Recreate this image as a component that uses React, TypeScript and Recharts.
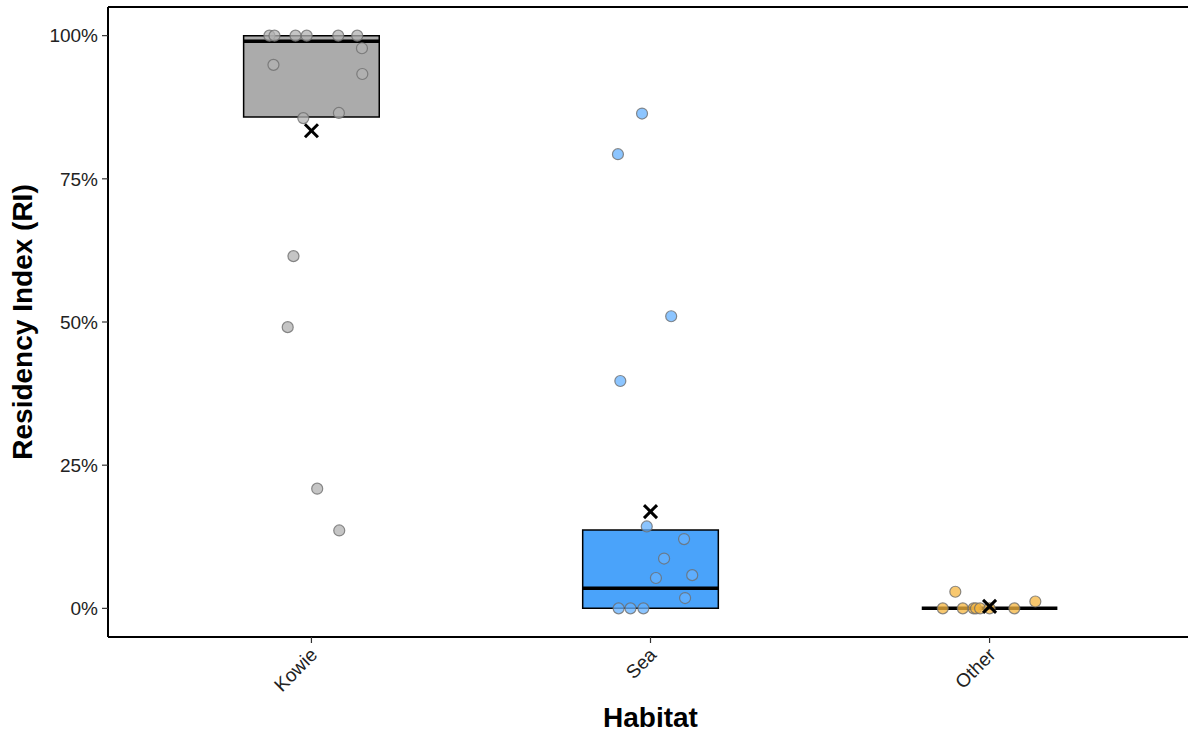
import React from 'react';
import {
  ComposedChart,
  XAxis,
  YAxis,
  Scatter,
  ReferenceArea,
  ReferenceLine,
  Label,
} from 'recharts';

// Categories
const habitats = ['Kowie', 'Sea', 'Other'];

// Individual residency index values (%) and their horizontal jitter (category units)
const kowieValues = [100, 100, 100, 100, 100, 100, 97.8, 94.9, 93.3, 85.6, 86.5, 61.5, 49.1, 20.9, 13.6];
const kowieJitter = [-0.124, -0.109, -0.047, -0.014, 0.079, 0.135, 0.149, -0.112, 0.15, -0.024, 0.081, -0.053, -0.07, 0.017, 0.082];

const seaValues = [86.4, 79.3, 51.0, 39.7, 14.3, 12.1, 8.7, 5.8, 5.3, 1.8, 0, 0, 0];
const seaJitter = [-0.025, -0.096, 0.061, -0.089, -0.011, 0.099, 0.04, 0.123, 0.016, 0.102, -0.094, -0.059, -0.021];

const otherValues = [2.9, 1.2, 0, 0, 0, 0, 0, 0, 0];
const otherJitter = [-0.101, 0.135, -0.138, -0.079, -0.047, -0.04, -0.028, 0.0, 0.073];

// Box statistics (%)
const q1 = [85.8, 0, 0];
const medians = [99, 3.5, 0];
const q3 = [100, 13.7, 0];
const means = [83.4, 16.9, 0.35];

// Tick labels
const yTicks = [0, 25, 50, 75, 100];
const xTicks = [1, 2, 3];

const boxFills = ['#ababab', '#4aa3fa', '#f2b544'];
const pointFills = ['#b2b2b2', '#66b2ff', '#f5b53f'];

const seriesValues = [kowieValues, seaValues, otherValues];
const seriesJitter = [kowieJitter, seaJitter, otherJitter];

const pointData = seriesValues.map((vals, i) =>
  vals.map((v, j) => ({ x: i + 1 + seriesJitter[i][j], y: v }))
);
const meanData = means.map((m, i) => ({ x: i + 1, y: m }));

const FONT = '"Liberation Sans", Arial, sans-serif';
const BOX_HALF = 0.2;

const makeDot = (fill: string) => (props: any) => {
  const { cx, cy } = props;
  if (cx == null || cy == null) return <g />;
  return (
    <circle cx={cx} cy={cy} r={5.5} fill={fill} fillOpacity={0.75} stroke="#6e6e6e" strokeOpacity={0.8} strokeWidth={1.2} />
  );
};

const MeanCross = (props: any) => {
  const { cx, cy } = props;
  if (cx == null || cy == null) return <g />;
  const s = 6.5;
  return (
    <g>
      <line x1={cx - s} y1={cy - s} x2={cx + s} y2={cy + s} stroke="#000" strokeWidth={3} />
      <line x1={cx - s} y1={cy + s} x2={cx + s} y2={cy - s} stroke="#000" strokeWidth={3} />
    </g>
  );
};

const XTick = (props: any) => {
  const { x, y, payload } = props;
  return (
    <g transform={`translate(${x - 3},${y + 1})`}>
      <text
        transform="rotate(-45)"
        textAnchor="end"
        dy="0.75em"
        fontFamily={FONT}
        fontSize={19}
        fill="#222"
      >
        {habitats[payload.value - 1]}
      </text>
    </g>
  );
};

const YTitle = (props: any) => {
  const vb = props.viewBox || { x: 0, y: 0, width: 0, height: 0 };
  const cx = vb.x + 22;
  const cy = vb.y + vb.height / 2;
  return (
    <text
      x={cx}
      y={cy}
      transform={`rotate(-90, ${cx}, ${cy})`}
      textAnchor="middle"
      dominantBaseline="central"
      fontFamily={FONT}
      fontSize={28}
      fontWeight="bold"
      fill="#000"
    >
      Residency Index (RI)
    </text>
  );
};

const XTitle = (props: any) => {
  const vb = props.viewBox || { x: 0, y: 0, width: 0, height: 0 };
  const cx = vb.x + vb.width / 2;
  return (
    <text
      x={cx}
      y={vb.y + 90}
      textAnchor="middle"
      fontFamily={FONT}
      fontSize={28}
      fontWeight="bold"
      fill="#000"
    >
      Habitat
    </text>
  );
};

export default function App() {
  return (
    <div style={{ position: 'absolute', left: 0, top: 0, width: 1188, height: 733, overflow: 'hidden', background: '#fff' }}>
      <ComposedChart
        width={1200}
        height={733}
        margin={{ top: 7, right: 7, bottom: 16, left: 0 }}
      >
        <XAxis
          type="number"
          dataKey="x"
          domain={[0.4, 3.6]}
          ticks={xTicks}
          allowDataOverflow
          height={80}
          axisLine={{ stroke: '#000', strokeWidth: 2 }}
          tickLine={{ stroke: '#333', strokeWidth: 1.2 }}
          tickSize={6}
          tick={<XTick />}
          interval={0}
        >
          <Label content={<XTitle />} />
        </XAxis>
        <YAxis
          type="number"
          dataKey="y"
          domain={[-5, 105]}
          ticks={yTicks}
          allowDataOverflow
          width={108}
          axisLine={{ stroke: '#000', strokeWidth: 2 }}
          tickLine={{ stroke: '#333', strokeWidth: 1.2 }}
          tickSize={6}
          tickMargin={4}
          tickFormatter={(v: number) => `${v}%`}
          tick={{ fontFamily: FONT, fontSize: 19, fill: '#222' }}
        >
          <Label content={<YTitle />} />
        </YAxis>
        <ReferenceLine y={105} stroke="#000" strokeWidth={2} ifOverflow="visible" />
        {habitats.map((h, i) => (
          <ReferenceArea
            key={`box-${h}`}
            x1={i + 1 - BOX_HALF}
            x2={i + 1 + BOX_HALF}
            y1={q1[i]}
            y2={q3[i]}
            fill={boxFills[i]}
            fillOpacity={1}
            stroke="#000"
            strokeWidth={1.5}
            ifOverflow="visible"
          />
        ))}
        {habitats.map((h, i) => (
          <ReferenceLine
            key={`med-${h}`}
            segment={[
              { x: i + 1 - BOX_HALF, y: medians[i] },
              { x: i + 1 + BOX_HALF, y: medians[i] },
            ]}
            stroke="#000"
            strokeWidth={3.5}
            ifOverflow="visible"
          />
        ))}
        {habitats.map((h, i) => (
          <Scatter
            key={`pts-${h}`}
            name={h}
            data={pointData[i]}
            shape={makeDot(pointFills[i])}
            isAnimationActive={false}
          />
        ))}
        <Scatter name="mean" data={meanData} shape={<MeanCross />} isAnimationActive={false} />
      </ComposedChart>
    </div>
  );
}
